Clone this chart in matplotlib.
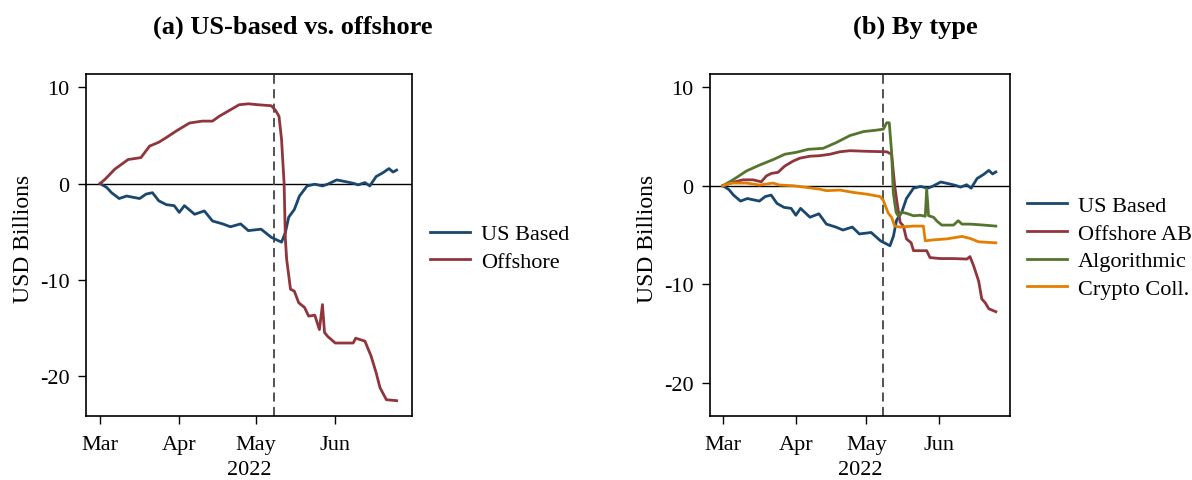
import numpy as np
import pandas as pd
import matplotlib
matplotlib.use("Agg")
import matplotlib.pyplot as plt
import matplotlib.dates as mdates

plt.rcParams["font.family"] = ["Liberation Serif", "DejaVu Serif"]
plt.rcParams["axes.unicode_minus"] = False

# day offsets from 2022-03-01 and values (USD billions)
us_days = [0, 2.6, 4.5, 7.5, 10.4, 15.5, 18, 20.5, 23, 26, 29, 31, 33, 37, 40.8, 44, 48, 51,
           55, 58, 63, 67, 71, 72.5, 73.8, 76, 78, 81, 84, 87, 89, 92.6, 96, 99, 101, 103.6,
           105.5, 108, 110.8, 113, 114.6, 116]
us_vals = [0, -0.4, -0.95, -1.56, -1.3, -1.56, -1.1, -0.95, -1.8, -2.2, -2.3, -3.0, -2.3, -3.2,
           -2.85, -3.9, -4.2, -4.5, -4.2, -4.9, -4.75, -5.6, -6.1, -5.1, -3.5, -2.7, -1.3, -0.25,
           -0.07, -0.25, -0.07, 0.38, 0.2, 0.03, -0.14, 0.1, -0.25, 0.73, 1.15, 1.56, 1.2, 1.4]

off_days = [0, 2, 5.8, 11, 16, 19.4, 23, 26, 30, 35, 40, 44, 46.6, 50.5, 54.4, 58, 62, 67, 68.7,
            70, 71, 72, 72.5, 73, 74.5, 76, 77.7, 80, 81.6, 84, 85.8, 87, 87.8, 89, 92, 96, 99,
            100, 103.6, 106, 108, 109.5, 112, 116]
off_vals = [0, 0.45, 1.5, 2.5, 2.7, 3.9, 4.3, 4.8, 5.5, 6.3, 6.5, 6.5, 7.0, 7.6, 8.2, 8.3, 8.2,
            8.1, 7.6, 7.0, 4.6, 0, -5.8, -7.9, -11, -11.2, -12.4, -12.9, -13.8, -13.7, -15.2,
            -12.6, -15.5, -15.9, -16.6, -16.6, -16.6, -16.1, -16.4, -17.95, -19.7, -21.25,
            -22.5, -22.6]

ab_days = [0, 4.3, 8.5, 12.8, 16.3, 18.5, 20.6, 23.4, 26.3, 29.8, 32.7, 37, 41, 45.5, 49.7, 54,
           61, 69.6, 71.7, 73, 74, 75.3, 76.7, 78, 80, 81, 86.6, 88, 92.3, 98, 103.7, 105,
           106.5, 108.7, 110, 111.5, 113, 116]
ab_vals = [0, 0.34, 0.6, 0.6, 0.4, 1.0, 1.25, 1.36, 2.0, 2.5, 2.8, 3.0, 3.05, 3.2, 3.45, 3.56,
           3.5, 3.45, 3.2, 0, -1.7, -3.7, -4.1, -5.4, -5.8, -6.6, -6.6, -7.3, -7.4, -7.4, -7.45,
           -7.2, -8.1, -9.7, -11.5, -11.9, -12.5, -12.8]

algo_days = [0, 4.3, 10, 15.6, 21.3, 26.3, 31.3, 36.2, 42.6, 48.3, 54, 59.7, 65.3, 68.2, 69.6,
             70.7, 71.7, 72.4, 73.6, 74.6, 76, 78, 81, 83.8, 86, 86.6, 87.4, 89.5, 91, 93, 98,
             100, 101.6, 105, 109.4, 116]
algo_vals = [0, 0.6, 1.5, 2.1, 2.65, 3.2, 3.4, 3.7, 3.8, 4.4, 5.1, 5.5, 5.65, 5.75, 6.4, 6.4,
             3.4, -0.7, -2.7, -3.1, -2.7, -2.8, -3.05, -3.0, -3.1, -0.34, -3.05, -3.2, -3.6,
             -4.0, -4.0, -3.55, -3.9, -3.9, -3.97, -4.1]

cc_days = [0, 3.5, 10, 15.6, 21.3, 24, 30, 35.5, 41, 44, 49.7, 55.4, 61, 66.8, 68.2, 69.3, 70.3,
           71.7, 73, 75.3, 81, 85.2, 86, 89.5, 95.2, 101.6, 105, 108.7, 116]
cc_vals = [0, 0.27, 0.27, 0.07, 0.27, 0.07, 0, -0.17, -0.34, -0.5, -0.44, -0.68, -0.85, -1.1,
           -1.5, -2.2, -2.8, -3.2, -4.1, -4.2, -4.1, -4.1, -5.6, -5.5, -5.4, -5.15, -5.35, -5.7,
           -5.8]

start = pd.Timestamp("2022-03-01")
event = pd.Timestamp("2022-05-08")

navy = "#1a476f"
maroon = "#90353b"
green = "#55752f"
orange = "#e37e00"


def to_dates(days):
    return [start + pd.Timedelta(days=d) for d in days]


def style_axis(ax, ylim):
    ax.axhline(0, color="black", lw=1.0, zorder=1)
    ax.axvline(event, color="#444444", lw=1.3, ls=(0, (5, 3)), zorder=1)
    ax.set_xlim(start - pd.Timedelta(days=5.5), start + pd.Timedelta(days=122))
    ax.set_ylim(*ylim)
    ax.set_yticks([10, 0, -10, -20])
    ax.xaxis.set_major_locator(mdates.MonthLocator(bymonth=[3, 4, 5, 6]))
    ax.xaxis.set_major_formatter(mdates.DateFormatter("%b"))
    ax.tick_params(axis="both", direction="out", length=6, width=1, labelsize=16, pad=6)
    ax.tick_params(axis="x", pad=8)
    for s in ax.spines.values():
        s.set_linewidth(1.2)
    ax.set_xlabel("2022", fontsize=16, labelpad=4)
    ax.set_ylabel("USD Billions", fontsize=17, labelpad=4)
    ax.yaxis.label.set_y(0.52)


fig = plt.figure(figsize=(11.92, 4.81), dpi=100)

ax1 = fig.add_axes([0.0721, 0.133, 0.2735, 0.711])
ax1.plot(to_dates(us_days), us_vals, color=navy, lw=2.0, label="US Based")
ax1.plot(to_dates(off_days), off_vals, color=maroon, lw=2.0, label="Offshore")
style_axis(ax1, (-24.2, 11.4))
ax1.legend(loc="center left", bbox_to_anchor=(0.3607, 0.483), bbox_transform=fig.transFigure,
           frameon=False, fontsize=16, handlelength=1.8, handletextpad=0.5,
           labelspacing=0.3, borderpad=0, borderaxespad=0)

ax2 = fig.add_axes([0.5956, 0.133, 0.2517, 0.711])
ax2.plot(to_dates(us_days), us_vals, color=navy, lw=2.0, label="US Based")
ax2.plot(to_dates(ab_days), ab_vals, color=maroon, lw=2.0, label="Offshore AB")
ax2.plot(to_dates(algo_days), algo_vals, color=green, lw=2.0, label="Algorithmic")
ax2.plot(to_dates(cc_days), cc_vals, color=orange, lw=2.0, label="Crypto Coll.")
style_axis(ax2, (-23.4, 11.35))
ax2.legend(loc="center left", bbox_to_anchor=(0.8616, 0.484), bbox_transform=fig.transFigure,
           frameon=False, fontsize=16, handlelength=1.8, handletextpad=0.5,
           labelspacing=0.32, borderpad=0, borderaxespad=0)

fig.text(0.246, 0.944, "(a) US-based vs. offshore", ha="center", va="center",
         fontsize=19, fontweight="bold")
fig.text(0.768, 0.944, "(b) By type", ha="center", va="center",
         fontsize=19, fontweight="bold")

fig.savefig("out.png", dpi=100)
